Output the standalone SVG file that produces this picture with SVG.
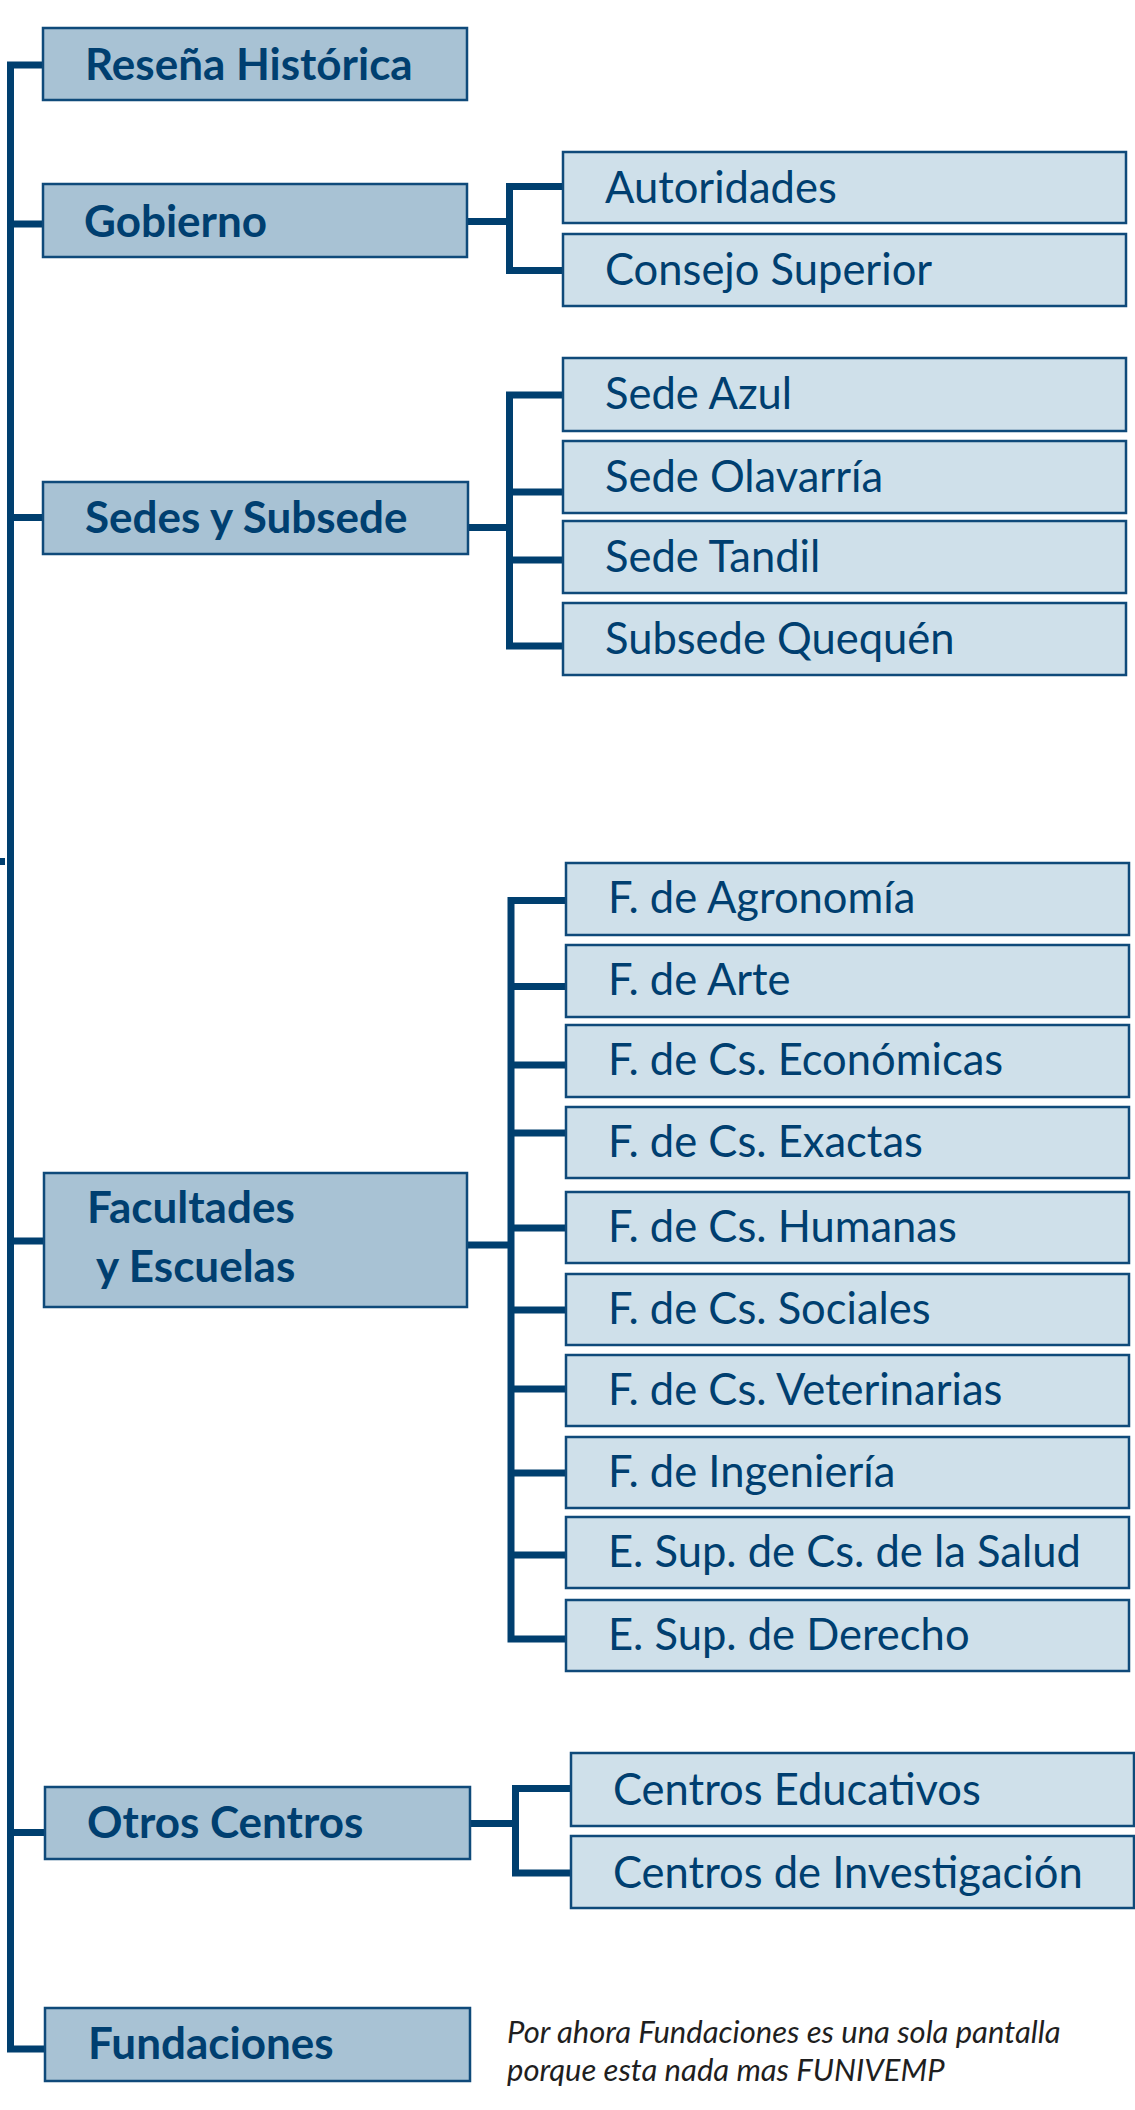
<svg xmlns="http://www.w3.org/2000/svg" width="1135" height="2110" viewBox="0 0 1135 2110">
<style>
.p{fill:#a8c2d4;stroke:#0f4a7a;stroke-width:2.5}
.c{fill:#cfe0ea;stroke:#0f4a7a;stroke-width:2.5}
.pt{font-family:Lato,"Liberation Sans",sans-serif;font-weight:bold;font-size:44px;fill:#003f70}
.ct{font-family:Lato,"Liberation Sans",sans-serif;font-size:43.5px;fill:#003f70}
.nt{font-family:Lato,"Liberation Sans",sans-serif;font-style:italic;font-size:31px;fill:#1f1f1f}
.ln{fill:none;stroke:#003f6f;stroke-width:7;stroke-linejoin:miter}
</style>
<rect width="1135" height="2110" fill="#ffffff"/>
<g id="connectors">
<path class="ln" d="M43 65 H10.5 V2049 H45"/>
<path class="ln" d="M10.5 224 H43 M10.5 517.5 H43 M10.5 1241 H44 M10.5 1832.5 H45"/>
<rect x="0" y="858" width="5" height="7" fill="#003f6f"/>
<path class="ln" d="M467 221.5 H509.5 M563 186.5 H509.5 V270.5 H563"/>
<path class="ln" d="M468 527.5 H509.5 M563 395 H509.5 V646 H563 M509.5 492 H563 M509.5 560 H563"/>
<path class="ln" d="M467 1245 H511 M566 900.5 H511 V1639 H566 M511 986.5 H566 M511 1065 H566 M511 1133 H566 M511 1228 H566 M511 1310 H566 M511 1389 H566 M511 1473 H566 M511 1555 H566"/>
<path class="ln" d="M470 1823.5 H515.5 M571 1788.5 H515.5 V1873 H571"/>
</g>
<g id="resena"><rect class="p" x="43" y="28" width="424" height="72"/><text class="pt" x="85" y="80">Reseña Histórica</text></g>
<g id="gobierno"><rect class="p" x="43" y="184" width="424" height="73"/><text class="pt" x="84" y="237">Gobierno</text></g>
<g id="autoridades"><rect class="c" x="563" y="152" width="563" height="71"/><text class="ct" x="605" y="203">Autoridades</text></g>
<g id="consejo"><rect class="c" x="563" y="234" width="563" height="72"/><text class="ct" x="605" y="285">Consejo Superior</text></g>
<g id="sedes"><rect class="p" x="43" y="482" width="425" height="72"/><text class="pt" x="85" y="533">Sedes y Subsede</text></g>
<g id="sede-azul"><rect class="c" x="563" y="358" width="563" height="73"/><text class="ct" x="605" y="409">Sede Azul</text></g>
<g id="sede-olavarria"><rect class="c" x="563" y="441" width="563" height="72"/><text class="ct" x="605" y="492">Sede Olavarría</text></g>
<g id="sede-tandil"><rect class="c" x="563" y="521" width="563" height="72"/><text class="ct" x="605" y="572">Sede Tandil</text></g>
<g id="subsede-quequen"><rect class="c" x="563" y="603" width="563" height="72"/><text class="ct" x="605" y="654">Subsede Quequén</text></g>
<g id="facultades"><rect class="p" x="44" y="1173" width="423" height="134"/><text class="pt" x="87" y="1223">Facultades</text><text class="pt" x="96" y="1282">y Escuelas</text></g>
<g id="f-agronomia"><rect class="c" x="566" y="863" width="563" height="72"/><text class="ct" x="608" y="913">F. de Agronomía</text></g>
<g id="f-arte"><rect class="c" x="566" y="945" width="563" height="72"/><text class="ct" x="608" y="995">F. de Arte</text></g>
<g id="f-economicas"><rect class="c" x="566" y="1025" width="563" height="72"/><text class="ct" x="608" y="1075">F. de Cs. Económicas</text></g>
<g id="f-exactas"><rect class="c" x="566" y="1107" width="563" height="71"/><text class="ct" x="608" y="1157">F. de Cs. Exactas</text></g>
<g id="f-humanas"><rect class="c" x="566" y="1192" width="563" height="71"/><text class="ct" x="608" y="1242">F. de Cs. Humanas</text></g>
<g id="f-sociales"><rect class="c" x="566" y="1274" width="563" height="71"/><text class="ct" x="608" y="1324">F. de Cs. Sociales</text></g>
<g id="f-veterinarias"><rect class="c" x="566" y="1355" width="563" height="71"/><text class="ct" x="608" y="1405">F. de Cs. Veterinarias</text></g>
<g id="f-ingenieria"><rect class="c" x="566" y="1437" width="563" height="71"/><text class="ct" x="608" y="1487">F. de Ingeniería</text></g>
<g id="e-salud"><rect class="c" x="566" y="1517" width="563" height="71"/><text class="ct" x="608" y="1567">E. Sup. de Cs. de la Salud</text></g>
<g id="e-derecho"><rect class="c" x="566" y="1600" width="563" height="71"/><text class="ct" x="608" y="1650">E. Sup. de Derecho</text></g>
<g id="otros"><rect class="p" x="45" y="1787" width="425" height="72"/><text class="pt" x="87" y="1838">Otros Centros</text></g>
<g id="centros-educativos"><rect class="c" x="571" y="1753" width="563" height="73"/><text class="ct" x="613" y="1805">Centros Educativos</text></g>
<g id="centros-investigacion"><rect class="c" x="571" y="1836" width="563" height="72"/><text class="ct" x="613" y="1888">Centros de Investigación</text></g>
<g id="fundaciones"><rect class="p" x="45" y="2008" width="425" height="73"/><text class="pt" x="88" y="2059">Fundaciones</text></g>
<g id="nota"><text class="nt" x="507" y="2043">Por ahora Fundaciones es una sola pantalla</text><text class="nt" x="507" y="2081">porque esta nada mas FUNIVEMP</text></g>
</svg>
